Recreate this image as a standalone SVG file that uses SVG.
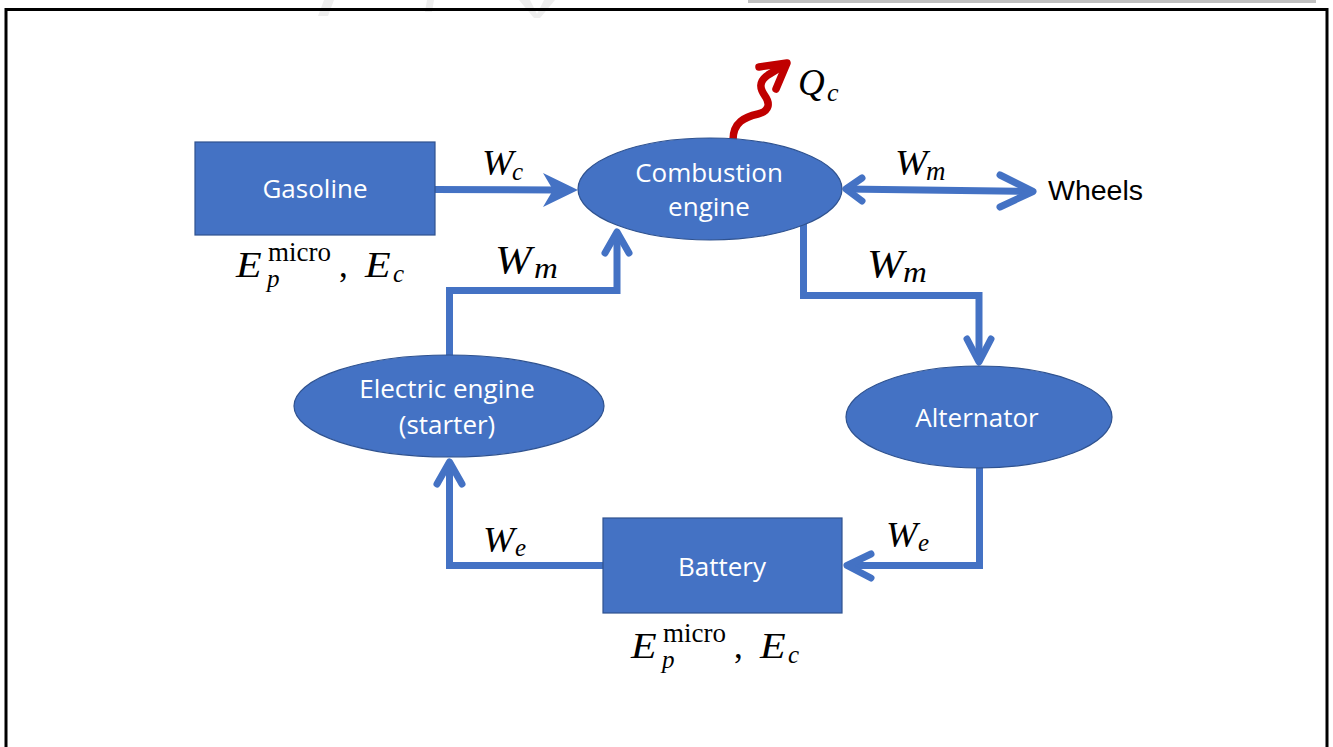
<svg xmlns="http://www.w3.org/2000/svg" width="1333" height="747" viewBox="0 0 1333 747">
<style>
.node{fill:#4472C4;stroke:#2F528F;stroke-width:1.2}
.lbl{font-family:"Open Sans","Noto Sans",sans-serif;font-size:26px;fill:#ffffff;text-anchor:middle}
.conn{fill:none;stroke:#4472C4;stroke-width:7}
.chev{fill:none;stroke:#4472C4;stroke-width:7;stroke-linecap:round;stroke-linejoin:round}
.mi{font-family:"Liberation Serif","Times New Roman",serif;font-style:italic;fill:#000}
.mr{font-family:"Liberation Serif","Times New Roman",serif;fill:#000}
</style>
<rect width="1333" height="747" fill="#ffffff"/>
<g id="frame">
<rect x="748" y="0" width="568" height="3" fill="#c0c0c0"/>
<polygon points="318,16 324,0 334,0 328,16" fill="#eeeeee"/>
<polygon points="425,12 427,0 434,0 432,12" fill="#eeeeee"/>
<polygon points="519,0 530,0 537,14 544,0 555,0 540,18 534,18" fill="#eeeeee"/>
<path d="M6,747 V9.5 H1327 V747" fill="none" stroke="#000" stroke-width="3"/>
</g>
<g id="connectors">
<path class="conn" d="M435,189.5 L556,190"/>
<polygon points="578,190 543,173 553,190 543,207" fill="#4472C4"/>
<path class="conn" d="M845,189 L1034,191.5"/>
<path class="chev" d="M862,178 L846,189 L862,201"/>
<path class="chev" d="M1000,175 L1033,191.5 L1000,207"/>
<path class="conn" d="M449.5,360 V290.5 H617 V232"/>
<path class="chev" d="M605,253 L617,232 L629,253"/>
<path class="conn" d="M803.5,222 V295.5 H979 V362"/>
<path class="chev" d="M967,339 L979,362 L991,339"/>
<path class="conn" d="M979.5,466 V565.5 H847"/>
<path class="chev" d="M871,554 L847,565.5 L871,578"/>
<path class="conn" d="M604,565.5 H449.5 V462"/>
<path class="chev" d="M437,484 L449.5,462 L462,484"/>
<path d="M733,140 C733,122 745,117 758,114 C770,111 770,103 765,96 C760,89 758,82 768,75 L786,64" fill="none" stroke="#C00000" stroke-width="7.5" stroke-linecap="round"/>
<path d="M759,67 L787,63 L776,89" fill="none" stroke="#C00000" stroke-width="7.5" stroke-linecap="round" stroke-linejoin="round"/>
</g>
<g id="gasoline">
<rect class="node" x="195" y="142" width="240" height="93"/>
<text class="lbl" x="315" y="198">Gasoline</text>
</g>
<g id="combustion">
<ellipse class="node" cx="710" cy="189" rx="132" ry="51"/>
<text class="lbl" x="709" y="182">Combustion</text>
<text class="lbl" x="709" y="216">engine</text>
</g>
<g id="starter">
<ellipse class="node" cx="449" cy="406" rx="155" ry="51"/>
<text class="lbl" x="447" y="398">Electric engine</text>
<text class="lbl" x="447" y="434">(starter)</text>
</g>
<g id="alternator">
<ellipse class="node" cx="979" cy="417" rx="133" ry="51"/>
<text class="lbl" x="977" y="427">Alternator</text>
</g>
<g id="battery">
<rect class="node" x="603" y="518" width="239" height="95"/>
<text class="lbl" x="722" y="576">Battery</text>
</g>
<g id="wheels">
<text x="1048" y="200" font-family="Liberation Sans, Arial, sans-serif" font-size="28.5" fill="#000">Wheels</text>
</g>
<g id="labels">
<g transform="translate(482,175)"><text class="mi" transform="scale(1.08,1)" font-size="35">W</text><text class="mi" x="30" y="5" font-size="25">c</text></g>
<g transform="translate(895,175)"><text class="mi" transform="scale(1.08,1)" font-size="36">W</text><text class="mi" x="31" y="5" font-size="27">m</text></g>
<g transform="translate(495,273)"><text class="mi" transform="scale(1.1,1)" font-size="40">W</text><text class="mi" transform="translate(39,5) scale(1.1,1)" font-size="30">m</text></g>
<g transform="translate(867,277)"><text class="mi" transform="scale(1.1,1)" font-size="40">W</text><text class="mi" transform="translate(36,5) scale(1.1,1)" font-size="30">m</text></g>
<g transform="translate(483,552)"><text class="mi" transform="scale(1.08,1)" font-size="35">W</text><text class="mi" x="32" y="4" font-size="25">e</text></g>
<g transform="translate(886,547)"><text class="mi" transform="scale(1.08,1)" font-size="35">W</text><text class="mi" x="32" y="4" font-size="25">e</text></g>
<g transform="translate(798,95)"><text class="mi" font-size="37">Q</text><text class="mi" x="29" y="6" font-size="26">c</text></g>
<g transform="translate(236,277)"><text class="mi" transform="scale(1.2,1)" font-size="35">E</text><text class="mr" x="32" y="-16" font-size="27">micro</text><text class="mi" x="31" y="10" font-size="25">p</text><text class="mr" x="103" font-size="35">,</text><text class="mi" transform="translate(129,0) scale(1.2,1)" font-size="35">E</text><text class="mi" x="157" y="5" font-size="25">c</text></g>
<g transform="translate(631,658)"><text class="mi" transform="scale(1.2,1)" font-size="35">E</text><text class="mr" x="32" y="-16" font-size="27">micro</text><text class="mi" x="31" y="10" font-size="25">p</text><text class="mr" x="103" font-size="35">,</text><text class="mi" transform="translate(129,0) scale(1.2,1)" font-size="35">E</text><text class="mi" x="157" y="5" font-size="25">c</text></g>
</g>
</svg>
